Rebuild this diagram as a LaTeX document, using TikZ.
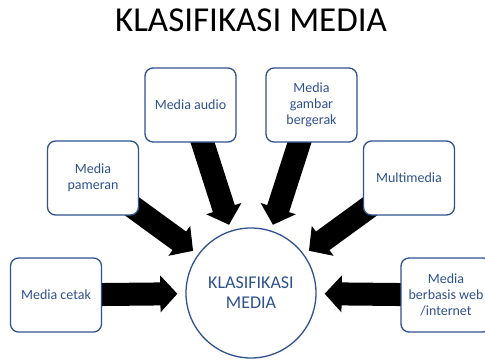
\documentclass[tikz,border=0pt]{standalone}
\usepackage{fontspec}
\setmainfont{Carlito}
\usetikzlibrary{arrows.meta,backgrounds}
\definecolor{boxblue}{RGB}{47,82,143}
\begin{document}
\begin{tikzpicture}[x=1pt,y=-1pt,
  mbox/.style={draw=boxblue, line width=1.3pt, rounded corners=8pt, fill=white,
    minimum width=91pt, minimum height=74pt, align=center, text=boxblue,
    font=\fontsize{14}{16}\selectfont, inner sep=2pt},
  hub/.style={circle, draw=boxblue, line width=1.3pt, minimum size=130pt,
    align=center, text=boxblue, font=\fontsize{18}{20}\selectfont, fill=white},
  bigarrow/.style={line width=23pt, -{Triangle[length=17pt,width=36pt]}, shorten >=6pt}]
\useasboundingbox (0,0) rectangle (485,361);
\node[anchor=base, font=\fontsize{35}{40}\selectfont] (title) at (251,32) {KLASIFIKASI MEDIA};
\node[hub] (hub) at (251,293) {KLASIFIKASI\\MEDIA};
\node[mbox] (audio) at (190.5,105) {Media audio};
\node[mbox] (gambar) at (311.5,105) {Media\\gambar\\bergerak};
\node[mbox] (pameran) at (93,178) {Media\\pameran};
\node[mbox] (multi) at (409,178) {Multimedia};
\node[mbox] (cetak) at (56,295) {Media cetak};
\node[mbox, minimum width=90pt] (web) at (446,295) {Media\\berbasis web\\/internet};
\begin{scope}[on background layer]
\draw[bigarrow] (audio.center) -- (hub);
\draw[bigarrow] (gambar.center) -- (hub);
\draw[bigarrow] (pameran.center) -- (hub);
\draw[bigarrow] (multi.center) -- (hub);
\draw[bigarrow, shorten >=8pt] (cetak.center) -- (hub);
\draw[bigarrow, shorten >=8pt] (web.center) -- (hub);
\end{scope}
\end{tikzpicture}
\end{document}
